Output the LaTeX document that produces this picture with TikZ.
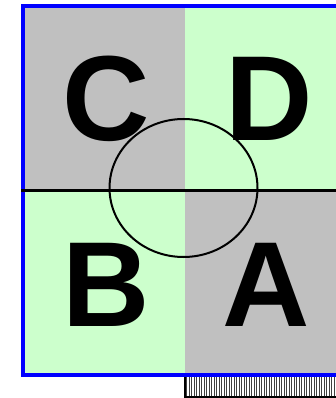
\documentclass[tikz,border=0pt]{standalone}
\usetikzlibrary{shapes.geometric}
\usepackage{fontspec}
\setmainfont{Liberation Sans}
\definecolor{cellgray}{HTML}{C0C0C0}
\definecolor{cellgreen}{HTML}{CCFFCC}
\definecolor{framblue}{HTML}{0000FF}
\definecolor{hatchgray}{HTML}{404040}
\begin{document}
\begin{tikzpicture}[x=1pt,y=-1pt,
  letter/.style={inner sep=0pt,font=\fontsize{121}{121}\selectfont\bfseries,anchor=base},
  hatchline/.style={hatchgray,line width=1pt}]
\useasboundingbox (0,0) rectangle (336,398);
\begin{scope}
\clip (0,0) rectangle (336,398);
% cells
\fill[cellgray] (23,6) rectangle (185,190);
\fill[cellgreen] (185,6) rectangle (345,190);
\fill[cellgreen] (23,190) rectangle (185,375);
\fill[cellgray] (185,190) rectangle (345,375);
% hatched strip
\foreach \i in {0,...,62} {
  \draw[hatchline] (186.5+2.5*\i,377) -- (186.5+2.5*\i,397);
}
\draw[black,line width=1.5pt] (185,377) -- (185,397) -- (345,397);
% frame
\draw[framblue,line width=4pt] (345,375) -- (23,375) -- (23,6) -- (345,6);
% divider
\draw[black,line width=3.5pt] (21,190.5) -- (345,190.5);
\end{scope}
% letters
\node[letter] (C) at (106,140) {C};
\node[letter] (D) at (269,140) {D};
\node[letter] (B) at (106,326) {B};
\node[letter] (A) at (266,326) {A};
% circle
\node[draw,black,line width=2pt,ellipse,minimum width=148pt,minimum height=138pt,inner sep=0pt] (O) at (183.5,188) {};
\end{tikzpicture}
\end{document}
